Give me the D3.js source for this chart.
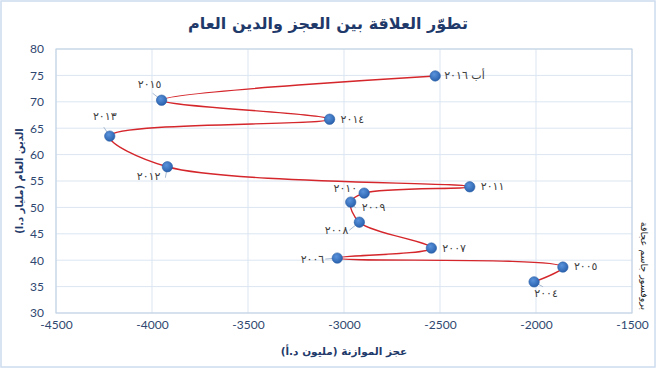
<!DOCTYPE html>
<html>
<head>
<meta charset="utf-8">
<script src="https://cdn.jsdelivr.net/npm/d3@7"></script>
<style>
  body { margin: 0; background: #fff; }
  svg { display: block; }
</style>
</head>
<body>
<div id="chart"></div>
<script>
// data
var years = ['٢٠٠٤', '٢٠٠٥', '٢٠٠٦', '٢٠٠٧', '٢٠٠٨', '٢٠٠٩', '٢٠١٠', '٢٠١١', '٢٠١٢', '٢٠١٣', '٢٠١٤', '٢٠١٥', 'أب ٢٠١٦'];
var deficit = [-2010, -1860, -3035, -2545, -2920, -2965, -2895, -2345, -3920, -4220, -3075, -3950, -2525]; // مليون د.أ
var debt = [35.9, 38.7, 40.4, 42.3, 47.2, 51.0, 52.7, 53.9, 57.7, 63.5, 66.7, 70.3, 74.9];   // مليار د.أ
var xTicks = [-4500, -4000, -3500, -3000, -2500, -2000, -1500];
var yTicks = [30, 35, 40, 45, 50, 55, 60, 65, 70, 75, 80];

// label placement (anchor, offset from the point, optional leader start)
var labelPlace = [
    {a: 'middle', dx: 12, dy: 12, lead: [9, 5]},
    {a: 'start', dx: 11, dy: -1},
    {a: 'end', dx: -13, dy: 1, lead: [-12, 1]},
    {a: 'start', dx: 11, dy: 0},
    {a: 'end', dx: -11, dy: 8, lead: [-10, 8]},
    {a: 'start', dx: 11, dy: 5, lead: [5, 6]},
    {a: 'end', dx: -7, dy: -5},
    {a: 'start', dx: 11, dy: 0},
    {a: 'end', dx: -7, dy: 10, lead: [-2, 11]},
    {a: 'middle', dx: -5, dy: -20, lead: [-6, -9]},
    {a: 'start', dx: 11, dy: 0},
    {a: 'middle', dx: -12, dy: -16, lead: [-9, -7]},
    {a: 'start', dx: 9, dy: 0}
];

var W = 656, H = 368;
var margin = {top: 49, right: 24, bottom: 55, left: 56};

var svg = d3.select('#chart').append('svg')
    .attr('width', W)
    .attr('height', H);

var defs = svg.append('defs');
var grad = defs.append('radialGradient')
    .attr('id', 'dot-grad')
    .attr('cx', '40%').attr('cy', '35%').attr('r', '65%');
grad.append('stop').attr('offset', '0%').attr('stop-color', '#5a93dc');
grad.append('stop').attr('offset', '100%').attr('stop-color', '#2a62ae');

// chart frame
svg.append('rect')
    .attr('x', 1).attr('y', 1)
    .attr('width', W - 2).attr('height', H - 2)
    .attr('fill', '#fff')
    .attr('stroke', '#cddcef')
    .attr('stroke-width', 1.5);

var x = d3.scaleLinear().domain([-4500, -1500]).range([margin.left, W - margin.right]);
var y = d3.scaleLinear().domain([30, 80]).range([H - margin.bottom, margin.top]);

// grid
var grid = svg.append('g');
grid.selectAll('line.h').data(yTicks).enter().append('line')
    .attr('x1', x(-4500)).attr('x2', x(-1500))
    .attr('y1', function (d) { return y(d); })
    .attr('y2', function (d) { return y(d); })
    .attr('stroke', '#dbe5f1').attr('stroke-width', 1);
grid.selectAll('line.v').data(xTicks).enter().append('line')
    .attr('y1', y(30)).attr('y2', y(80))
    .attr('x1', function (d) { return x(d); })
    .attr('x2', function (d) { return x(d); })
    .attr('stroke', '#dbe5f1').attr('stroke-width', 1);

// plot border
svg.append('rect')
    .attr('x', x(-4500)).attr('y', y(80))
    .attr('width', x(-1500) - x(-4500))
    .attr('height', y(30) - y(80))
    .attr('fill', 'none')
    .attr('stroke', '#bfcfe4')
    .attr('stroke-width', 1);

// axes
var tickFont = 'Lato, "Open Sans", sans-serif';
var tickColor = '#2f4770';

var xAxis = svg.append('g')
    .attr('transform', 'translate(0,' + y(30) + ')')
    .call(d3.axisBottom(x).tickValues(xTicks).tickSize(0).tickPadding(7)
        .tickFormat(function (d) { return String(d); }));
xAxis.select('.domain').remove();
xAxis.selectAll('text')
    .attr('font-family', tickFont).attr('font-size', 12).attr('fill', tickColor);

var yAxis = svg.append('g')
    .attr('transform', 'translate(' + x(-4500) + ',0)')
    .call(d3.axisLeft(y).tickValues(yTicks).tickSize(0).tickPadding(12)
        .tickFormat(function (d) { return String(d); }));
yAxis.select('.domain').remove();
yAxis.selectAll('text')
    .attr('font-family', tickFont).attr('font-size', 12).attr('fill', tickColor);

// titles
var arFont = '"DejaVu Sans", "Noto Sans", sans-serif';
svg.append('text')
    .attr('x', 328).attr('y', 29)
    .attr('text-anchor', 'middle')
    .attr('font-family', arFont).attr('font-weight', 'bold')
    .attr('font-size', 16).attr('fill', '#1f3a6a')
    .text('تطوّر العلاقة بين العجز والدين العام');

svg.append('text')
    .attr('x', (x(-4500) + x(-1500)) / 2).attr('y', 355)
    .attr('text-anchor', 'middle')
    .attr('font-family', arFont).attr('font-weight', 'bold')
    .attr('font-size', 10.5).attr('fill', '#1f3a6a')
    .text('عجز الموازنة (مليون د.أ)');

svg.append('text')
    .attr('transform', 'translate(23,' + ((y(30) + y(80)) / 2) + ') rotate(-90)')
    .attr('text-anchor', 'middle')
    .attr('font-family', arFont).attr('font-weight', 'bold')
    .attr('font-size', 10).attr('fill', '#1f3a6a')
    .text('الدين العام (مليار د.ا)');

svg.append('text')
    .attr('transform', 'translate(641,266) rotate(90)')
    .attr('text-anchor', 'middle')
    .attr('font-family', arFont)
    .attr('font-size', 9.5).attr('fill', '#222')
    .text('بروفسور جاسم عجاقة');

// series
var pts = deficit.map(function (d, i) { return {x: d, y: debt[i], label: years[i], p: labelPlace[i]}; });

var line = d3.line()
    .x(function (d) { return x(d.x); })
    .y(function (d) { return y(d.y); })
    .curve(d3.curveCatmullRom.alpha(0.5));

svg.append('path')
    .datum(pts)
    .attr('d', line)
    .attr('fill', 'none')
    .attr('stroke', '#d4262b')
    .attr('stroke-width', 1.4);

// leader lines
svg.selectAll('line.lead').data(pts.filter(function (d) { return d.p.lead; })).enter().append('line')
    .attr('x1', function (d) { return x(d.x) + d.p.lead[0]; })
    .attr('y1', function (d) { return y(d.y) + d.p.lead[1]; })
    .attr('x2', function (d) { return x(d.x); })
    .attr('y2', function (d) { return y(d.y); })
    .attr('stroke', '#a9bbd2')
    .attr('stroke-width', 1);

svg.selectAll('circle.dot').data(pts).enter().append('circle')
    .attr('cx', function (d) { return x(d.x); })
    .attr('cy', function (d) { return y(d.y); })
    .attr('r', 5.2)
    .attr('fill', 'url(#dot-grad)')
    .attr('stroke', '#2a5ea6')
    .attr('stroke-width', 0.6);

svg.selectAll('text.lbl').data(pts).enter().append('text')
    .attr('x', function (d) { return x(d.x) + d.p.dx; })
    .attr('y', function (d) { return y(d.y) + d.p.dy; })
    .attr('text-anchor', function (d) { return d.p.a; })
    .attr('dominant-baseline', 'central')
    .attr('font-family', arFont)
    .attr('font-size', 11)
    .attr('fill', '#404040')
    .text(function (d) { return d.label; });
</script>
</body>
</html>
